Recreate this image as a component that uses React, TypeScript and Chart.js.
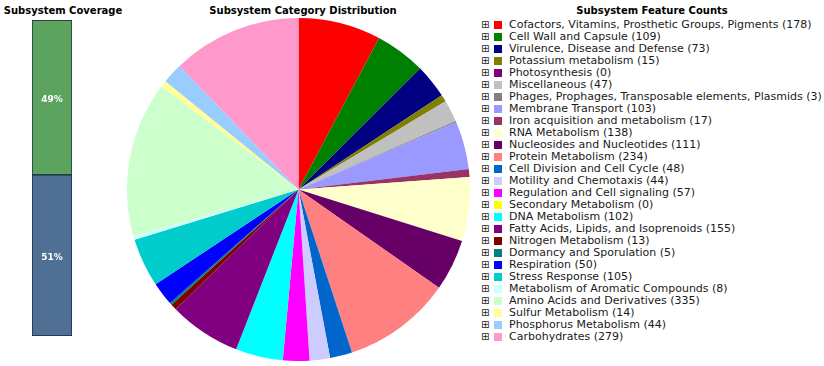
import React, { useEffect, useRef } from 'react';
import { Chart, registerables } from 'chart.js';

Chart.register(...registerables);

const categories = [
  'Cofactors, Vitamins, Prosthetic Groups, Pigments',
  'Cell Wall and Capsule',
  'Virulence, Disease and Defense',
  'Potassium metabolism',
  'Photosynthesis',
  'Miscellaneous',
  'Phages, Prophages, Transposable elements, Plasmids',
  'Membrane Transport',
  'Iron acquisition and metabolism',
  'RNA Metabolism',
  'Nucleosides and Nucleotides',
  'Protein Metabolism',
  'Cell Division and Cell Cycle',
  'Motility and Chemotaxis',
  'Regulation and Cell signaling',
  'Secondary Metabolism',
  'DNA Metabolism',
  'Fatty Acids, Lipids, and Isoprenoids',
  'Nitrogen Metabolism',
  'Dormancy and Sporulation',
  'Respiration',
  'Stress Response',
  'Metabolism of Aromatic Compounds',
  'Amino Acids and Derivatives',
  'Sulfur Metabolism',
  'Phosphorus Metabolism',
  'Carbohydrates',
];

const featureCounts = [
  178, 109, 73, 15, 0, 47, 3, 103, 17, 138, 111, 234, 48, 44, 57, 0, 102, 155, 13, 5, 50, 105, 8, 335, 14, 44, 279,
];

const sliceColors = [
  '#FF0000', '#008000', '#000080', '#808000', '#800080', '#C0C0C0', '#808080', '#9999FF', '#993366',
  '#FFFFCC', '#660066', '#FF8080', '#0066CC', '#CCCCFF', '#FF00FF', '#FFFF00', '#00FFFF', '#800080',
  '#800000', '#008080', '#0000FF', '#00CCCC', '#CCFFFF', '#CCFFCC', '#FFFF99', '#99CCFF', '#FF99CC',
];

const coverageLabels = ['Not in Subsystem', 'In Subsystem'];
const coverageValues = [51, 49];
const coverageColors = ['#4F6F95', '#5BA35F'];

const FONT = '"DejaVu Sans", Verdana, sans-serif';

const barLabelPlugin = {
  id: 'barLabels',
  afterDatasetsDraw(chart: any) {
    const ctx = chart.ctx;
    ctx.save();
    ctx.fillStyle = '#ffffff';
    ctx.font = 'bold 9px ' + FONT;
    ctx.textAlign = 'center';
    ctx.textBaseline = 'middle';
    chart.data.datasets.forEach((ds: any, i: number) => {
      const meta = chart.getDatasetMeta(i);
      meta.data.forEach((bar: any, j: number) => {
        const p = bar.getProps(['x', 'y', 'base'], true);
        ctx.fillText(ds.data[j] + '%', p.x, (p.y + p.base) / 2 + 2);
      });
    });
    ctx.restore();
  },
};

export default function App() {
  const pieRef = useRef<HTMLCanvasElement>(null);
  const barRef = useRef<HTMLCanvasElement>(null);

  useEffect(() => {
    const pie = new Chart(pieRef.current as HTMLCanvasElement, {
      type: 'pie',
      data: {
        labels: categories,
        datasets: [{ data: featureCounts, backgroundColor: sliceColors, borderWidth: 0 }],
      },
      options: {
        responsive: false,
        animation: false,
        layout: { padding: 0 },
        plugins: { legend: { display: false }, tooltip: { enabled: false } },
      },
    });
    const bar = new Chart(barRef.current as HTMLCanvasElement, {
      type: 'bar',
      data: {
        labels: ['Coverage'],
        datasets: coverageValues.map((v, i) => ({
          label: coverageLabels[i],
          data: [v],
          backgroundColor: coverageColors[i],
          borderColor: '#1B2836',
          borderWidth: 1,
          borderSkipped: false,
          barPercentage: 1,
          categoryPercentage: 1,
        })),
      },
      options: {
        responsive: false,
        animation: false,
        layout: { padding: 0 },
        scales: {
          x: { stacked: true, display: false },
          y: { stacked: true, display: false, min: 0, max: 100 },
        },
        plugins: { legend: { display: false }, tooltip: { enabled: false } },
      },
      plugins: [barLabelPlugin],
    });
    return () => {
      pie.destroy();
      bar.destroy();
    };
  }, []);

  const titleStyle: React.CSSProperties = {
    position: 'absolute',
    top: 4,
    font: 'bold 10px ' + FONT,
    color: '#000',
    whiteSpace: 'nowrap',
    transform: 'translateX(-50%)',
    lineHeight: '14px',
  };

  return (
    <div style={{ position: 'fixed', left: 0, top: 0, width: 824, height: 366, background: '#fff', overflow: 'hidden' }}>
      <div style={{ ...titleStyle, left: 63 }}>Subsystem Coverage</div>
      <div style={{ ...titleStyle, left: 303 }}>Subsystem Category Distribution</div>
      <div style={{ ...titleStyle, left: 652 }}>Subsystem Feature Counts</div>
      <canvas
        ref={barRef}
        width={40}
        height={316}
        style={{ position: 'absolute', left: 32, top: 20, width: 40, height: 316 }}
      />
      <canvas
        ref={pieRef}
        width={343}
        height={343}
        style={{ position: 'absolute', left: 127, top: 18, width: 343, height: 343 }}
      />
      <div style={{ position: 'absolute', left: 481, top: 19 }}>
        {categories.map((c, i) => (
          <div key={c} style={{ display: 'flex', alignItems: 'center', height: 12, font: '11px ' + FONT, color: '#1a1a1a', whiteSpace: 'nowrap' }}>
            <span style={{ width: 12, fontSize: 10, lineHeight: '12px', color: '#222' }}>⊞</span>
            <span style={{ width: 8, height: 8, background: sliceColors[i], marginLeft: 1, marginRight: 7 }} />
            <span style={{ lineHeight: '12px' }}>{c + ' (' + featureCounts[i] + ')'}</span>
          </div>
        ))}
      </div>
    </div>
  );
}
